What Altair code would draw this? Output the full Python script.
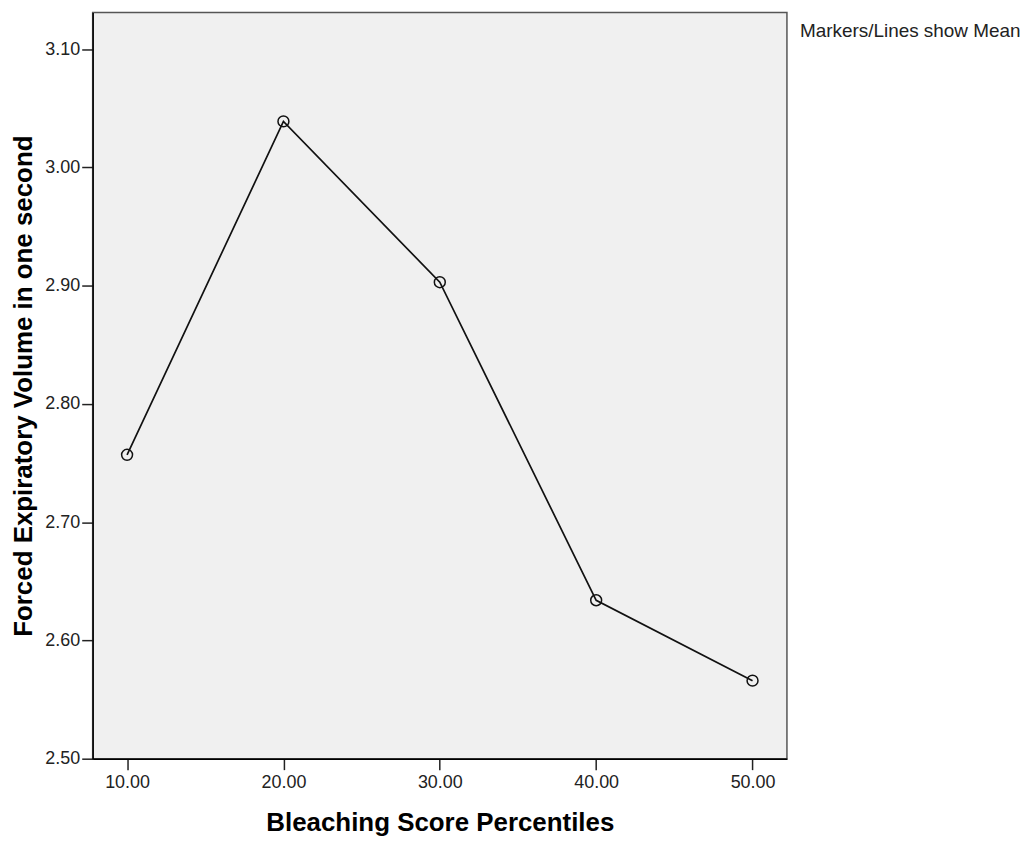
import altair as alt
import pandas as pd

percentiles = [10, 20, 30, 40, 50]
fev1_mean = [2.757, 3.039, 2.903, 2.634, 2.566]
x_ticks = [10, 20, 30, 40, 50]
y_ticks = [2.5, 2.6, 2.7, 2.8, 2.9, 3.0, 3.1]
note = ["Markers/Lines show Mean"]

df = pd.DataFrame({"pct": percentiles, "fev": fev1_mean})

FONT = "Liberation Sans"

x = alt.X("pct:Q", scale=alt.Scale(domain=[7.8, 52.2], nice=False, zero=False),
          axis=alt.Axis(values=x_ticks, format=".2f", title="Bleaching Score Percentiles",
                        grid=False, tickSize=11, labelFontSize=18, titleFontSize=26,
                        titleFontWeight="bold", labelColor="#222", titleColor="#000",
                        labelPadding=4, titlePadding=18, domainColor="#000",
                        tickColor="#222", tickWidth=1.5, domainWidth=1.5))
y = alt.Y("fev:Q", scale=alt.Scale(domain=[2.5, 3.131], nice=False, zero=False),
          axis=alt.Axis(values=y_ticks, format=".2f", title="Forced Expiratory Volume in one second",
                        grid=False, tickSize=11, labelFontSize=18, titleFontSize=26,
                        titleFontWeight="bold", labelColor="#222", titleColor="#000",
                        labelPadding=2, titlePadding=8, domainColor="#000",
                        tickColor="#222", tickWidth=1.5, domainWidth=1.5))

line = alt.Chart(df).mark_line(color="#111", strokeWidth=1.7).encode(x=x, y=y)
pts = alt.Chart(df).mark_point(shape="circle", filled=False, color="#111", size=120,
                               strokeWidth=1.5, opacity=1).encode(x=x, y=y)

txt = alt.Chart(pd.DataFrame({"t": note})).mark_text(
    align="left", baseline="alphabetic", fontSize=19, font=FONT, color="#222"
).encode(text="t:N", x=alt.value(710), y=alt.value(24))

chart = alt.layer(line, pts, txt).properties(
    width=697, height=749,
    autosize=alt.AutoSizeParams(type="none"),
    padding={"left": 85, "top": 3, "right": 240, "bottom": 82},
    background="white",
).configure_view(
    fill="#f0f0f0", stroke="#555", strokeWidth=1.5
).configure_axis(
    labelFont=FONT, titleFont=FONT
)

chart.save("out.html", embed_options={"renderer": "svg", "actions": False})
